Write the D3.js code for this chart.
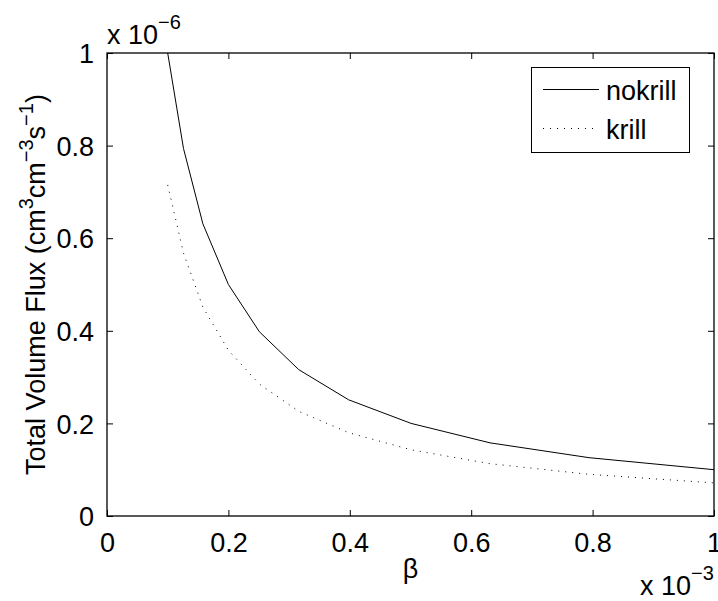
<!DOCTYPE html>
<html>
<head>
<meta charset="utf-8">
<script src="https://cdn.jsdelivr.net/npm/d3@7"></script>
<style>
  html, body { margin: 0; padding: 0; background: #fff; }
  svg text { font-family: "Liberation Sans", Arial, Helvetica, sans-serif; fill: #000; }
</style>
</head>
<body>
<svg id="chart" width="718" height="601"></svg>
<script>
// beta values (units of 1e-3) and total volume flux (units of 1e-6)
const beta = [0.1, 0.126, 0.158, 0.2, 0.251, 0.316, 0.398, 0.501, 0.631, 0.794, 1.0];
const nokrill = [1.0, 0.794, 0.631, 0.5, 0.398, 0.316, 0.251, 0.2, 0.158, 0.126, 0.1];
const krill = [0.715, 0.568, 0.451, 0.358, 0.285, 0.226, 0.18, 0.143, 0.113, 0.09, 0.0715];
const xTicks = [0, 0.2, 0.4, 0.6, 0.8, 1];
const yTicks = [0, 0.2, 0.4, 0.6, 0.8, 1];
const seriesNames = ["nokrill", "krill"];

const svg = d3.select("#chart");
const m = { left: 107, right: 714, top: 53, bottom: 516 };
const fs = 27;

const x = d3.scaleLinear().domain([0, 1]).range([m.left, m.right]);
const y = d3.scaleLinear().domain([0, 1]).range([m.bottom, m.top]);

const fmt = d => (d === 0 || d === 1) ? String(d) : d.toFixed(1);
const tickLen = 6;

// bottom axis with labels, inward ticks
const gx = svg.append("g").attr("transform", `translate(0,${m.bottom})`)
  .call(d3.axisBottom(x).tickValues(xTicks).tickFormat(fmt).tickSizeInner(-tickLen).tickSizeOuter(0).tickPadding(17));
// left axis with labels
const gy = svg.append("g").attr("transform", `translate(${m.left},0)`)
  .call(d3.axisLeft(y).tickValues(yTicks).tickFormat(fmt).tickSizeInner(-tickLen).tickSizeOuter(0).tickPadding(13));
// top and right axes, ticks only
const gt = svg.append("g").attr("transform", `translate(0,${m.top})`)
  .call(d3.axisTop(x).tickValues(xTicks).tickFormat("").tickSizeInner(-tickLen).tickSizeOuter(0));
const gr = svg.append("g").attr("transform", `translate(${m.right},0)`)
  .call(d3.axisRight(y).tickValues(yTicks).tickFormat("").tickSizeInner(-tickLen).tickSizeOuter(0));

[gx, gy, gt, gr].forEach(g => {
  g.select(".domain").remove();
  g.selectAll(".tick line").attr("stroke", "#000").attr("stroke-width", 1);
  g.selectAll(".tick text").attr("font-size", fs).attr("font-family", "Liberation Sans, Arial, sans-serif").attr("fill", "#000");
});
gx.selectAll(".tick text").attr("dy", "0.71em");
gy.selectAll(".tick text").attr("dy", "0.36em");

// axes box
svg.append("rect")
  .attr("x", m.left).attr("y", m.top)
  .attr("width", m.right - m.left).attr("height", m.bottom - m.top)
  .attr("fill", "none").attr("stroke", "#000").attr("stroke-width", 1.3);

// curves
const line = d3.line().x(d => x(d[0])).y(d => y(d[1]));
svg.append("path")
  .datum(beta.map((b, i) => [b, nokrill[i]]))
  .attr("d", line).attr("fill", "none").attr("stroke", "#000").attr("stroke-width", 1);
svg.append("path")
  .datum(beta.map((b, i) => [b, krill[i]]))
  .attr("d", line).attr("fill", "none").attr("stroke", "#000").attr("stroke-width", 1)
  .attr("stroke-dasharray", "1,6");

// exponent labels
function expLabel(px, py, exp) {
  const t = svg.append("text").attr("x", px).attr("y", py).attr("font-size", fs);
  t.append("tspan").text("x 10");
  t.append("tspan").attr("font-size", 20).attr("dy", -15).text(exp);
}
expLabel(107, 44, "\u22126");
expLabel(640, 595, "\u22123");

// x label
svg.append("text").attr("x", (m.left + m.right) / 2).attr("y", 578)
  .attr("text-anchor", "middle").attr("font-size", fs).text("\u03b2");

// y label
const yl = svg.append("text")
  .attr("transform", `translate(45,${(m.top + m.bottom) / 2}) rotate(-90)`)
  .attr("text-anchor", "middle").attr("font-size", fs);
const parts = [["Total Volume Flux (cm", 0], ["3", 1], ["cm", 0], ["\u22123", 1], ["s", 0], ["\u22121", 1], [")", 0]];
let lvl = 0;
parts.forEach(([s, sup]) => {
  const ts = yl.append("tspan").text(s);
  if (sup && !lvl) { ts.attr("dy", -12).attr("font-size", 20); lvl = 1; }
  else if (sup) { ts.attr("font-size", 20); }
  else if (lvl) { ts.attr("dy", 12); lvl = 0; }
});

// legend
const lg = svg.append("g");
lg.append("rect").attr("x", 531.5).attr("y", 67.5).attr("width", 158).attr("height", 85)
  .attr("fill", "#fff").attr("stroke", "#000").attr("stroke-width", 1);
const legendRows = [
  { name: seriesNames[0], dash: null, ly: 89.5 },
  { name: seriesNames[1], dash: "1,6", ly: 128.5 }
];
legendRows.forEach(r => {
  lg.append("line").attr("x1", 543).attr("x2", 599).attr("y1", r.ly).attr("y2", r.ly)
    .attr("stroke", "#000").attr("stroke-width", 1).attr("stroke-dasharray", r.dash);
  lg.append("text").attr("x", 606).attr("y", r.ly + 10).attr("font-size", fs).text(r.name);
});
</script>
</body>
</html>
